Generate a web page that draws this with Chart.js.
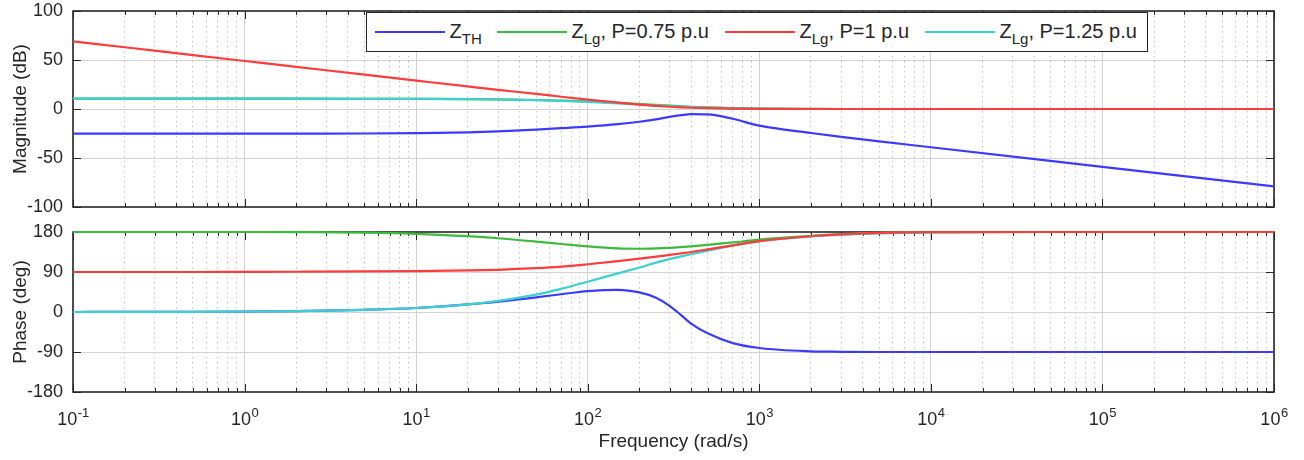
<!DOCTYPE html>
<html>
<head>
<meta charset="utf-8">
<script src="https://cdn.jsdelivr.net/npm/chart.js@4.4.0/dist/chart.umd.min.js"></script>
<style>
  html, body { margin: 0; padding: 0; background: #fff; }
  #wrap { position: relative; width: 1304px; height: 460px; font-family: "Liberation Sans", Arial, sans-serif; }
  #magChart { position: absolute; left: 0; top: 0; }
  #phaseChart { position: absolute; left: 0; top: 222px; }
  #legend {
    position: absolute; left: 366px; top: 12px; height: 40px; width: 782px;
    box-sizing: border-box; border: 1.5px solid #262626; background: #fff;
    display: flex; align-items: center; padding-left: 7.5px;
    font-size: 20px; color: #262626; white-space: nowrap;
  }
  .item { display: flex; align-items: center; flex: none; }
  .item i { display: inline-block; width: 70px; height: 2px; margin-right: 5px; flex: none; }
  .item span { display: inline-block; line-height: 20px; margin-top: -2px; }
  .item sub { font-size: 15px; vertical-align: -6px; line-height: 0; }
</style>
</head>
<body>
<div id="wrap">
  <canvas id="magChart" width="1304" height="222"></canvas>
  <canvas id="phaseChart" width="1304" height="238"></canvas>
  <div id="legend">
    <div class="item" style="width:122px"><i style="background:#3b3bff"></i><span>Z<sub>TH</sub></span></div>
    <div class="item" style="width:228px"><i style="background:#3cba3c"></i><span>Z<sub>Lg</sub>, P=0.75 p.u</span></div>
    <div class="item" style="width:200px"><i style="background:#ff3b3b"></i><span>Z<sub>Lg</sub>, P=1 p.u</span></div>
    <div class="item"><i style="background:#3cd0d0"></i><span>Z<sub>Lg</sub>, P=1.25 p.u</span></div>
  </div>
</div>
<script>
// frequency points (rad/s)
const freq = [0.1, 0.2, 0.5, 1, 2, 5, 10, 20, 30, 50, 70, 100, 150, 200, 250, 300, 350, 400, 500, 700, 1000, 2000, 3000, 5000, 1e4, 1e5, 1e6];

// magnitude (dB)
const magTH  = [-25.2, -25.2, -25.2, -25.2, -25.1, -25, -24.6, -23.8, -22.8, -21, -19.6, -18, -15.5, -13, -10.5, -8, -6.3, -5.2, -5.5, -10, -17, -24.5, -28.5, -33, -39, -59, -79];
const mag075 = [10.5, 10.5, 10.5, 10.5, 10.5, 10.4, 10.3, 10.1, 9.8, 9.2, 8.6, 7.8, 6.4, 5.2, 4.2, 3.4, 2.8, 2.3, 1.6, 0.8, 0.4, 0.1, 0, 0, 0, 0, 0];
const mag1   = [69, 63, 55, 49, 43, 35, 29, 23, 19.5, 15.5, 12.5, 9.5, 6.5, 4.5, 3.2, 2.3, 1.7, 1.3, 0.8, 0.3, 0.1, 0, 0, 0, 0, 0, 0];
const mag125 = [10.5, 10.5, 10.5, 10.5, 10.5, 10.4, 10.3, 10, 9.7, 9, 8.3, 7.3, 5.8, 4.6, 3.7, 3, 2.4, 2, 1.4, 0.7, 0.3, 0.1, 0, 0, 0, 0, 0];

// phase (deg)
const phTH  = [0, 0.2, 0.5, 1, 2, 5, 9, 17, 23, 33, 40, 47, 50, 44, 32, 14, -7, -26, -48, -70, -81, -88.5, -89.5, -90, -90, -90, -90];
const ph075 = [180, 180, 180, 180, 179.7, 178.7, 176, 170.5, 166, 158.5, 153, 147.5, 143, 142.3, 143, 144.3, 146, 147.7, 151, 156.5, 163, 171.5, 175, 178, 179.5, 180, 180];
const ph1   = [90, 90, 90, 90.3, 90.6, 91.2, 92, 93.5, 95, 98.5, 102, 107.5, 114.5, 120, 124.5, 128.5, 132, 135, 141, 150, 159.5, 170.5, 174.5, 178, 179.5, 180, 180];
const ph125 = [0, 0.2, 0.5, 1, 2, 5, 9, 17, 25, 39, 52, 68, 87, 100, 111, 119, 125, 130, 138, 149, 159, 170, 174, 177, 179, 180, 180];

// x tick decades (exponents) and y ticks
const xExps = [-1, 0, 1, 2, 3, 4, 5, 6];
const magTicks = [-100, -50, 0, 50, 100];
const phaseTicks = [-180, -90, 0, 90, 180];

const colors = { th: '#3b3bff', p075: '#3cba3c', p1: '#ff3b3b', p125: '#3cd0d0' };
const textColor = '#262626';
const FONT = '"Liberation Sans", Arial, sans-serif';

// every 1..9 x 10^k tick for the log grid
const xTicks = [];
for (let i = 0; i < xExps.length - 1; i++) {
  for (let m = 1; m <= 9; m++) xTicks.push(m * Math.pow(10, xExps[i]));
}
xTicks.push(Math.pow(10, xExps[xExps.length - 1]));

function isDecade(v) {
  const l = Math.log10(v);
  return Math.abs(l - Math.round(l)) < 1e-9;
}

function pts(ys) {
  return freq.map((f, i) => ({ x: f, y: ys[i] }));
}

function line(label, ys, color, order) {
  return {
    label: label, data: pts(ys), borderColor: color, backgroundColor: color,
    borderWidth: 2.2, pointRadius: 0, cubicInterpolationMode: 'monotone',
    clip: 4, order: order
  };
}

// box + inward ticks, and the 10^n labels on the lower plot
const framePlugin = {
  id: 'frame',
  beforeDatasetsDraw(chart, args, opts) {
    const { ctx, chartArea: a, scales } = chart;
    const x = scales.x, y = scales.y;
    ctx.save();
    ctx.strokeStyle = textColor;
    ctx.lineWidth = 1;
    ctx.beginPath();
    x.ticks.forEach(t => {
      const px = Math.round(x.getPixelForValue(t.value)) + 0.5;
      const len = isDecade(t.value) ? 8 : 4;
      ctx.moveTo(px, a.bottom); ctx.lineTo(px, a.bottom - len);
      ctx.moveTo(px, a.top); ctx.lineTo(px, a.top + len);
    });
    y.ticks.forEach(t => {
      const py = Math.round(y.getPixelForValue(t.value)) + 0.5;
      ctx.moveTo(a.left, py); ctx.lineTo(a.left + 8, py);
      ctx.moveTo(a.right, py); ctx.lineTo(a.right - 8, py);
    });
    ctx.stroke();
    ctx.lineWidth = 1.6;
    ctx.strokeRect(a.left, a.top, a.right - a.left, a.bottom - a.top);

    if (opts.labels) {
      ctx.fillStyle = textColor;
      ctx.textBaseline = 'middle';
      ctx.textAlign = 'left';
      xExps.forEach(e => {
        const px = x.getPixelForValue(Math.pow(10, e));
        const base = '10', sup = String(e);
        ctx.font = '18px ' + FONT;
        const w1 = ctx.measureText(base).width;
        ctx.font = '13px ' + FONT;
        const w2 = ctx.measureText(sup).width;
        const x0 = px - (w1 + w2) / 2;
        ctx.font = '18px ' + FONT;
        ctx.fillText(base, x0, a.bottom + 28);
        ctx.font = '13px ' + FONT;
        ctx.fillText(sup, x0 + w1 + 0.5, a.bottom + 21);
      });
    }
    ctx.restore();
  }
};

function xScale(showTitle) {
  return {
    type: 'logarithmic', min: 0.1, max: 1e6,
    afterBuildTicks: s => { s.ticks = xTicks.map(v => ({ value: v })); },
    afterFit: s => { s.height = showTitle ? 68 : 0; },
    ticks: { display: false, autoSkip: false },
    grid: {
      drawTicks: false,
      color: c => isDecade(c.tick.value) ? '#d2d2d2' : '#c4c4c4',
      lineWidth: 1
    },
    border: { display: false, dash: c => (c.tick && !isDecade(c.tick.value)) ? [1.5, 3.5] : [] },
    title: {
      display: showTitle, text: 'Frequency (rad/s)', color: textColor,
      font: { family: FONT, size: 19 }, padding: { top: 0, bottom: 7 }
    }
  };
}

function yScale(title, min, max, ticks) {
  return {
    min: min, max: max,
    afterBuildTicks: s => { s.ticks = ticks.map(v => ({ value: v })); },
    afterFit: s => { s.width = 73; },
    ticks: {
      color: textColor, padding: 0,
      font: { family: FONT, size: 18, lineHeight: 1 },
      callback: v => String(v)
    },
    grid: {
      drawTicks: true, tickLength: 10, tickColor: 'rgba(0,0,0,0)',
      color: c => (c.tick.value === min || c.tick.value === max) ? 'rgba(0,0,0,0)' : '#d2d2d2'
    },
    border: { display: false },
    title: {
      display: true, text: title, color: textColor,
      font: { family: FONT, size: 19 }, padding: { top: 9, bottom: 0 }
    }
  };
}

const baseOptions = {
  responsive: false,
  animation: false,
  plugins: { legend: { display: false }, tooltip: { enabled: false } }
};

new Chart(document.getElementById('magChart'), {
  type: 'line',
  data: {
    datasets: [
      line('Z_TH', magTH, colors.th, 3),
      line('Z_Lg, P=0.75 p.u', mag075, colors.p075, 2),
      line('Z_Lg, P=1 p.u', mag1, colors.p1, 0),
      line('Z_Lg, P=1.25 p.u', mag125, colors.p125, 1)
    ]
  },
  options: Object.assign({}, baseOptions, {
    layout: { padding: { left: 0, right: 30, top: 11, bottom: 15 } },
    scales: { x: xScale(false), y: yScale('Magnitude (dB)', -100, 100, magTicks) },
    plugins: Object.assign({}, baseOptions.plugins, { frame: { labels: false } })
  }),
  plugins: [framePlugin]
});

new Chart(document.getElementById('phaseChart'), {
  type: 'line',
  data: {
    datasets: [
      line('Z_TH', phTH, colors.th, 3),
      line('Z_Lg, P=0.75 p.u', ph075, colors.p075, 2),
      line('Z_Lg, P=1 p.u', ph1, colors.p1, 0),
      line('Z_Lg, P=1.25 p.u', ph125, colors.p125, 1)
    ]
  },
  options: Object.assign({}, baseOptions, {
    layout: { padding: { left: 0, right: 30, top: 10, bottom: 0 } },
    scales: { x: xScale(true), y: yScale('Phase (deg)', -180, 180, phaseTicks) },
    plugins: Object.assign({}, baseOptions.plugins, { frame: { labels: true } })
  }),
  plugins: [framePlugin]
});
</script>
</body>
</html>
